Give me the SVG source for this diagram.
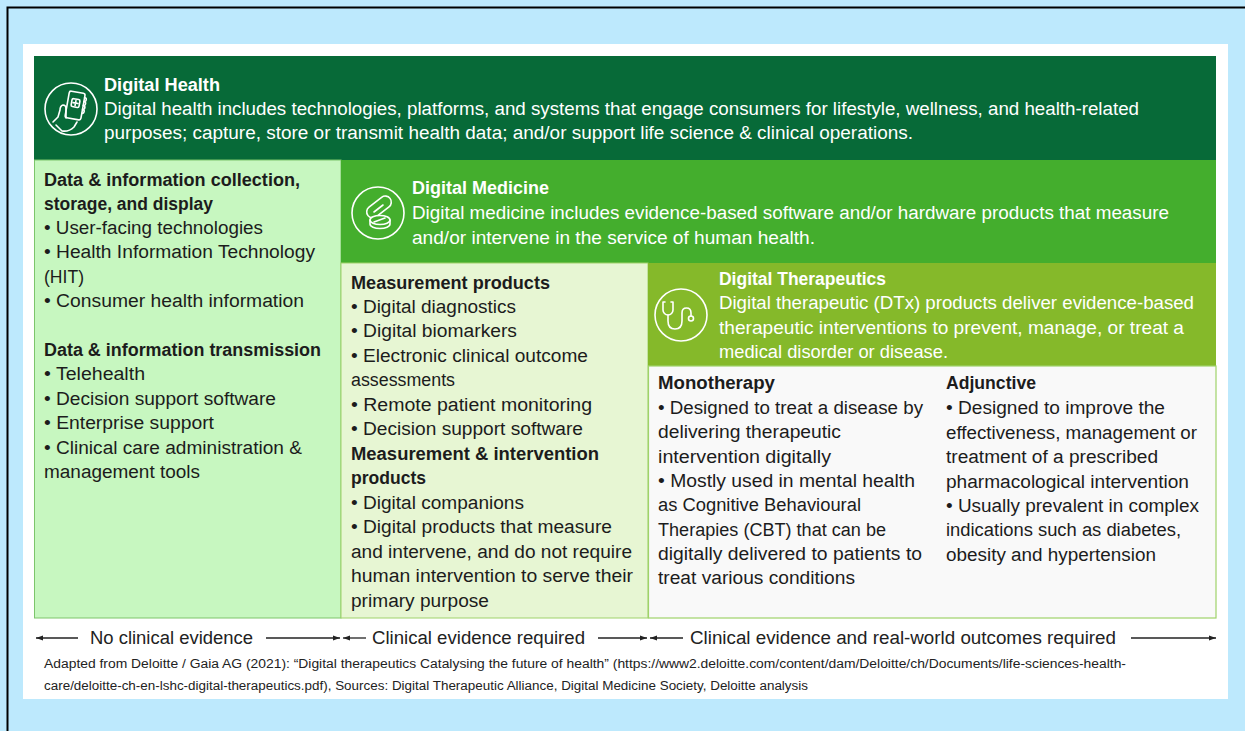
<svg xmlns="http://www.w3.org/2000/svg" width="1245" height="731" viewBox="0 0 1245 731">
<defs>
<style>
.t{font-family:"Liberation Sans",Arial,sans-serif;font-size:18px;fill:#1c1c1c}
.b{font-weight:bold}
.w{fill:#ffffff}
.ar{font-family:"Liberation Sans",Arial,sans-serif;font-size:18px;fill:#222}
.fn{font-family:"Liberation Sans",Arial,sans-serif;font-size:12.5px;fill:#222}
.ic{fill:none;stroke:#ffffff;stroke-width:1.6;stroke-linecap:round;stroke-linejoin:round}
.ln{stroke:#222;stroke-width:1.3;fill:none}
</style>
<marker id="ah" viewBox="0 0 10 10" refX="10" refY="5" markerWidth="7" markerHeight="7" orient="auto-start-reverse" markerUnits="userSpaceOnUse">
<path d="M0,1.5 L10,5 L0,8.5 z" fill="#222"/>
</marker>
</defs>
<rect x="0" y="0" width="1245" height="731" fill="#bde9fd"/>
<path d="M7.5,731 V7.5 H1245" fill="none" stroke="#000" stroke-width="2"/>
<rect x="23" y="44" width="1205" height="655" fill="#ffffff"/>

<g id="digital-health">
<rect x="34" y="56" width="1182" height="104" fill="#076a38"/>
<g class="ic">
<circle cx="71" cy="109" r="26"/>
<g transform="rotate(10 75 106)">
<rect x="67" y="92" width="16" height="27" rx="2"/>
<rect x="71" y="99" width="8" height="8" rx="1.5"/>
<path d="M75,100.5 v5 M72.5,103 h5"/>
<path d="M83,96 a2,2 0 0 1 0,4 a2,2 0 0 1 0,4 a2,2 0 0 1 0,4 a2,2 0 0 1 0,4"/>
</g>
<path d="M66,118 v-9 q0,-4 -3,-4 q-3,1 -3,5 l-2,7 l-5,5"/>
<path d="M56,125 l6,6 q7,1 12,-4 l3,-5"/>
</g>
<text class="t b w" x="104" y="91" textLength="116" lengthAdjust="spacingAndGlyphs">Digital Health</text>
<text class="t w" x="104" y="115" textLength="1035" lengthAdjust="spacingAndGlyphs">Digital health includes technologies, platforms, and systems that engage consumers for lifestyle, wellness, and health-related</text>
<text class="t w" x="104" y="139" textLength="809" lengthAdjust="spacingAndGlyphs">purposes; capture, store or transmit health data; and/or support life science &amp; clinical operations.</text>
</g>

<g id="data-collection">
<rect x="34.5" y="160" width="306.5" height="458" fill="#c7f7c0" stroke="#7cc56b" stroke-width="1"/>
<text class="t b" x="44" y="186" textLength="256" lengthAdjust="spacingAndGlyphs">Data &amp; information collection,</text>
<text class="t b" x="44" y="210" textLength="169" lengthAdjust="spacingAndGlyphs">storage, and display</text>
<text class="t" x="44" y="234" textLength="219" lengthAdjust="spacingAndGlyphs">• User-facing technologies</text>
<text class="t" x="44" y="258" textLength="271" lengthAdjust="spacingAndGlyphs">• Health Information Technology</text>
<text class="t" x="44" y="283" textLength="40" lengthAdjust="spacingAndGlyphs">(HIT)</text>
<text class="t" x="44" y="307" textLength="260" lengthAdjust="spacingAndGlyphs">• Consumer health information</text>
<text class="t b" x="44" y="356" textLength="277" lengthAdjust="spacingAndGlyphs">Data &amp; information transmission</text>
<text class="t" x="44" y="380" textLength="101" lengthAdjust="spacingAndGlyphs">• Telehealth</text>
<text class="t" x="44" y="405" textLength="232" lengthAdjust="spacingAndGlyphs">• Decision support software</text>
<text class="t" x="44" y="429" textLength="170" lengthAdjust="spacingAndGlyphs">• Enterprise support</text>
<text class="t" x="44" y="454" textLength="258" lengthAdjust="spacingAndGlyphs">• Clinical care administration &amp;</text>
<text class="t" x="44" y="478" textLength="156" lengthAdjust="spacingAndGlyphs">management tools</text>
</g>

<g id="digital-medicine">
<rect x="341" y="160" width="875" height="103" fill="#44ae2d"/>
<g class="ic">
<circle cx="378" cy="213" r="26"/>
<rect x="365" y="201" width="28" height="12" rx="6" transform="rotate(-38 379 207)"/>
<path d="M374,212 l9,-7" transform="rotate(0)"/>
<path d="M370,220 v4 a10,4.5 0 0 0 20,0 v-4" fill="#44ae2d"/>
<ellipse cx="380" cy="220" rx="10" ry="4.5" fill="#44ae2d"/>
<path d="M374,222 l11,-4"/>
</g>
<text class="t b w" x="412" y="194" textLength="137" lengthAdjust="spacingAndGlyphs">Digital Medicine</text>
<text class="t w" x="412" y="219" textLength="757" lengthAdjust="spacingAndGlyphs">Digital medicine includes evidence-based software and/or hardware products that measure</text>
<text class="t w" x="412" y="244" textLength="403" lengthAdjust="spacingAndGlyphs">and/or intervene in the service of human health.</text>
</g>

<g id="measurement">
<rect x="341" y="263" width="307" height="355" fill="#e7f6d3" stroke="#9fd26a" stroke-width="1"/>
<text class="t b" x="351" y="289" textLength="199" lengthAdjust="spacingAndGlyphs">Measurement products</text>
<text class="t" x="351" y="313" textLength="165" lengthAdjust="spacingAndGlyphs">• Digital diagnostics</text>
<text class="t" x="351" y="337" textLength="166" lengthAdjust="spacingAndGlyphs">• Digital biomarkers</text>
<text class="t" x="351" y="362" textLength="237" lengthAdjust="spacingAndGlyphs">• Electronic clinical outcome</text>
<text class="t" x="351" y="386" textLength="104" lengthAdjust="spacingAndGlyphs">assessments</text>
<text class="t" x="351" y="411" textLength="241" lengthAdjust="spacingAndGlyphs">• Remote patient monitoring</text>
<text class="t" x="351" y="435" textLength="232" lengthAdjust="spacingAndGlyphs">• Decision support software</text>
<text class="t b" x="351" y="460" textLength="248" lengthAdjust="spacingAndGlyphs">Measurement &amp; intervention</text>
<text class="t b" x="351" y="484" textLength="75" lengthAdjust="spacingAndGlyphs">products</text>
<text class="t" x="351" y="509" textLength="173" lengthAdjust="spacingAndGlyphs">• Digital companions</text>
<text class="t" x="351" y="533" textLength="261" lengthAdjust="spacingAndGlyphs">• Digital products that measure</text>
<text class="t" x="351" y="558" textLength="281" lengthAdjust="spacingAndGlyphs">and intervene, and do not require</text>
<text class="t" x="351" y="582" textLength="282" lengthAdjust="spacingAndGlyphs">human intervention to serve their</text>
<text class="t" x="351" y="607" textLength="138" lengthAdjust="spacingAndGlyphs">primary purpose</text>
</g>

<g id="digital-therapeutics">
<rect x="648" y="263" width="568" height="103" fill="#85b92a"/>
<g class="ic">
<circle cx="681" cy="315" r="26"/>
<path d="M665,302 h-2 v8 a5,5 0 0 0 10,0 v-8 h-2"/>
<path d="M668,315 v6 q0,8 7,8 q7,0 7,-8 v-8 q0,-5 4.5,-5 q4.5,0 4.5,5 v3"/>
<circle cx="691" cy="318.5" r="2.5"/>
</g>
<text class="t b w" x="719" y="285" textLength="167" lengthAdjust="spacingAndGlyphs">Digital Therapeutics</text>
<text class="t w" x="719" y="309" textLength="475" lengthAdjust="spacingAndGlyphs">Digital therapeutic (DTx) products deliver evidence-based</text>
<text class="t w" x="719" y="334" textLength="465" lengthAdjust="spacingAndGlyphs">therapeutic interventions to prevent, manage, or treat a</text>
<text class="t w" x="719" y="358" textLength="229" lengthAdjust="spacingAndGlyphs">medical disorder or disease.</text>
</g>

<g id="dtx-types">
<rect x="648.5" y="366" width="567.5" height="252" fill="#f9f9f9" stroke="#9fd26a" stroke-width="1.2"/>
</g>

<g id="monotherapy">
<text class="t b" x="658" y="389" textLength="117" lengthAdjust="spacingAndGlyphs">Monotherapy</text>
<text class="t" x="658" y="414" textLength="265" lengthAdjust="spacingAndGlyphs">• Designed to treat a disease by</text>
<text class="t" x="658" y="438" textLength="183" lengthAdjust="spacingAndGlyphs">delivering therapeutic</text>
<text class="t" x="658" y="463" textLength="173" lengthAdjust="spacingAndGlyphs">intervention digitally</text>
<text class="t" x="658" y="487" textLength="257" lengthAdjust="spacingAndGlyphs">• Mostly used in mental health</text>
<text class="t" x="658" y="511" textLength="203" lengthAdjust="spacingAndGlyphs">as Cognitive Behavioural</text>
<text class="t" x="658" y="536" textLength="228" lengthAdjust="spacingAndGlyphs">Therapies (CBT) that can be</text>
<text class="t" x="658" y="560" textLength="264" lengthAdjust="spacingAndGlyphs">digitally delivered to patients to</text>
<text class="t" x="658" y="584" textLength="197" lengthAdjust="spacingAndGlyphs">treat various conditions</text>
</g>

<g id="adjunctive">
<text class="t b" x="946" y="389" textLength="90" lengthAdjust="spacingAndGlyphs">Adjunctive</text>
<text class="t" x="946" y="414" textLength="219" lengthAdjust="spacingAndGlyphs">• Designed to improve the</text>
<text class="t" x="946" y="439" textLength="251" lengthAdjust="spacingAndGlyphs">effectiveness, management or</text>
<text class="t" x="946" y="463" textLength="212" lengthAdjust="spacingAndGlyphs">treatment of a prescribed</text>
<text class="t" x="946" y="488" textLength="243" lengthAdjust="spacingAndGlyphs">pharmacological intervention</text>
<text class="t" x="946" y="512" textLength="253" lengthAdjust="spacingAndGlyphs">• Usually prevalent in complex</text>
<text class="t" x="946" y="536" textLength="235" lengthAdjust="spacingAndGlyphs">indications such as diabetes,</text>
<text class="t" x="946" y="561" textLength="210" lengthAdjust="spacingAndGlyphs">obesity and hypertension</text>
</g>

<g id="connectors">
<line class="ln" x1="78" y1="638" x2="36" y2="638" marker-end="url(#ah)"/>
<line class="ln" x1="266" y1="638" x2="340" y2="638" marker-end="url(#ah)"/>
<line class="ln" x1="366" y1="638" x2="343" y2="638" marker-end="url(#ah)"/>
<line class="ln" x1="598" y1="638" x2="647" y2="638" marker-end="url(#ah)"/>
<line class="ln" x1="683" y1="638" x2="650" y2="638" marker-end="url(#ah)"/>
<line class="ln" x1="1131" y1="638" x2="1216" y2="638" marker-end="url(#ah)"/>
</g>

<g id="evidence-labels">
<text class="ar" x="90" y="644" textLength="163" lengthAdjust="spacingAndGlyphs">No clinical evidence</text>
<text class="ar" x="372" y="644" textLength="213" lengthAdjust="spacingAndGlyphs">Clinical evidence required</text>
<text class="ar" x="690" y="644" textLength="426" lengthAdjust="spacingAndGlyphs">Clinical evidence and real-world outcomes required</text>
</g>

<g id="footnote">
<text class="fn" x="44" y="668" textLength="1082" lengthAdjust="spacingAndGlyphs">Adapted from Deloitte / Gaia AG (2021):  “Digital therapeutics Catalysing the future of health” (https://www2.deloitte.com/content/dam/Deloitte/ch/Documents/life-sciences-health-</text>
<text class="fn" x="44" y="690" textLength="764" lengthAdjust="spacingAndGlyphs">care/deloitte-ch-en-lshc-digital-therapeutics.pdf), Sources: Digital Therapeutic Alliance, Digital Medicine Society, Deloitte analysis</text>
</g>
</svg>
